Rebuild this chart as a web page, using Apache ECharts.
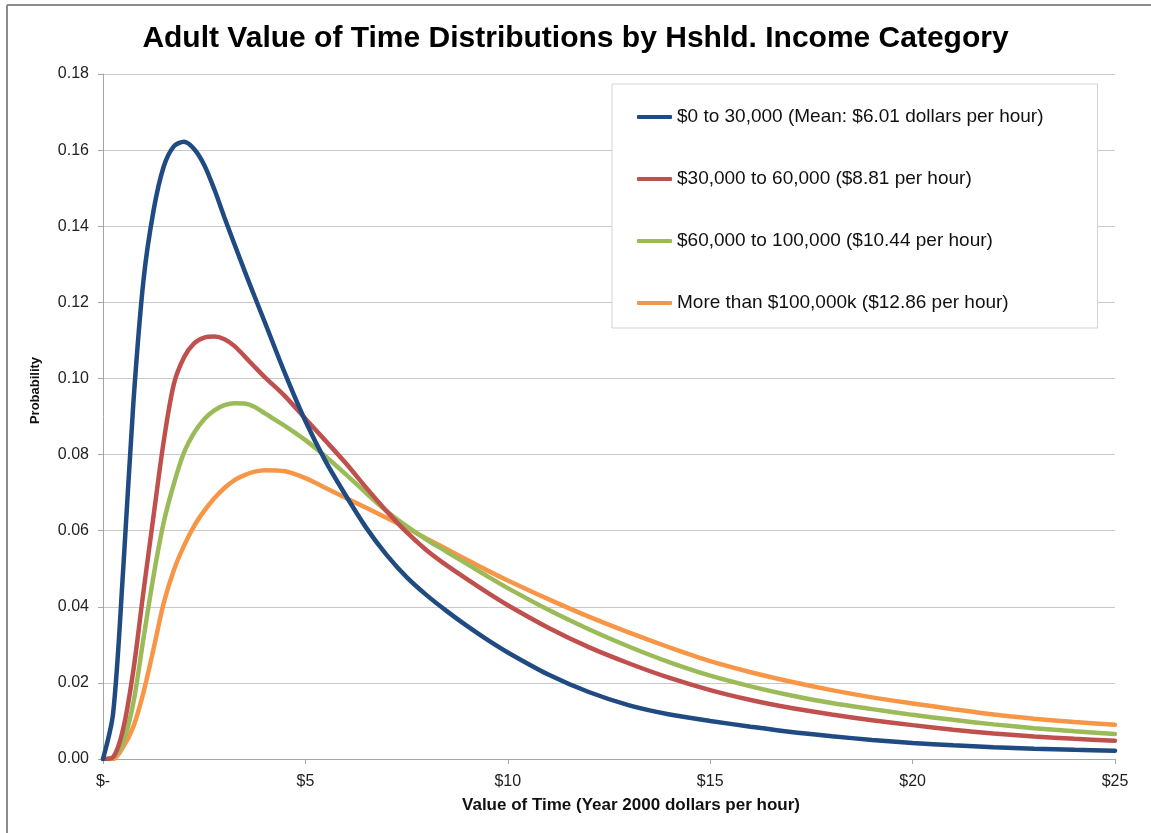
<!DOCTYPE html>
<html>
<head>
<meta charset="utf-8">
<script src="https://cdn.jsdelivr.net/npm/echarts@6/dist/echarts.min.js"></script>
<style>
  html, body { margin: 0; padding: 0; background: #fff; }
  #chart { width: 1151px; height: 833px; }
</style>
</head>
<body>
<div id="chart"></div>
<script>
// x positions (dollars per hour)
const xs = [0, 0.25, 0.5, 0.75, 1, 1.25, 1.5, 1.75, 2, 2.25, 2.5, 2.75, 3, 3.25, 3.5, 3.75, 4,
  4.5, 5, 5.5, 6, 6.5, 7, 7.5, 8, 8.5, 9, 9.5, 10,
  11, 12, 13, 14, 15, 16, 17, 18, 19, 20, 21, 22, 23, 24, 25]

const low = [0, 0.012, 0.05, 0.0935, 0.1258, 0.1442, 0.1557, 0.161, 0.1622, 0.1603, 0.1561, 0.1497, 0.1423, 0.1352, 0.1282, 0.1214, 0.1147,
  0.1012, 0.0888, 0.0782, 0.0692, 0.0608, 0.0537, 0.0478, 0.043, 0.0388, 0.0349, 0.0313, 0.028,
  0.0222, 0.0176, 0.0141, 0.0117, 0.01, 0.0085, 0.0071, 0.006, 0.005, 0.0042, 0.0036, 0.0031, 0.0027, 0.0024, 0.0022]

const midLow = [0, 0.0005, 0.008, 0.0233, 0.044, 0.064, 0.0835, 0.0985, 0.1055, 0.1092, 0.1107, 0.111, 0.1103, 0.1085, 0.1058, 0.103, 0.1003,
  0.0953, 0.0894, 0.0836, 0.0777, 0.0713, 0.0652, 0.0596, 0.0548, 0.0508, 0.0472, 0.0437, 0.0404,
  0.0345, 0.0294, 0.0251, 0.0213, 0.0181, 0.0155, 0.0134, 0.0117, 0.0102, 0.0089, 0.0077, 0.0067, 0.0059, 0.0053, 0.0048]

const midHigh = [0, 0.0005, 0.0045, 0.0148, 0.0317, 0.0482, 0.0622, 0.0723, 0.0805, 0.0857, 0.0893, 0.0916, 0.093, 0.0935, 0.0934, 0.0925, 0.0908,
  0.0875, 0.0838, 0.0795, 0.0748, 0.0699, 0.0652, 0.0612, 0.0576, 0.0544, 0.0512, 0.048, 0.0449,
  0.0392, 0.0341, 0.0295, 0.0254, 0.0219, 0.0191, 0.0167, 0.0147, 0.0131, 0.0116, 0.0103, 0.0091, 0.0081, 0.0073, 0.0066]

const high = [0, 0, 0.0032, 0.0085, 0.0175, 0.029, 0.041, 0.0496, 0.056, 0.0612, 0.0652, 0.0685, 0.0712, 0.0733, 0.0746, 0.0755, 0.0759,
  0.0756, 0.0738, 0.0712, 0.0686, 0.066, 0.0634, 0.0607, 0.0579, 0.0551, 0.0523, 0.0495, 0.0469,
  0.042, 0.0374, 0.0332, 0.0293, 0.0257, 0.0228, 0.0203, 0.0181, 0.0162, 0.0146, 0.0131, 0.0117, 0.0106, 0.0097, 0.009]

const names = [
  '$0 to 30,000 (Mean: $6.01 dollars per hour)',
  '$30,000 to 60,000 ($8.81 per hour)',
  '$60,000 to 100,000 ($10.44 per hour)',
  'More than $100,000k ($12.86 per hour)',
]
const colors = ['#1f4a82', '#c0504d', '#9bbb59', '#f79646']
const values = [low, midLow, midHigh, high]

const chart = echarts.init(document.getElementById('chart'))
const font = 'Liberation Sans, Arial, sans-serif'

chart.setOption({
  animation: false,
  textStyle: { fontFamily: font },
  title: {
    text: 'Adult Value of Time Distributions by Hshld. Income Category',
    left: 'center',
    top: 19,
    textStyle: { fontSize: 30, fontWeight: 'bold', color: '#000', fontFamily: font },
  },
  grid: { left: 103, right: 36, top: 74, bottom: 74 },
  legend: {
    orient: 'vertical',
    left: 612,
    top: 84,
    padding: [22, 54, 14, 25],
    itemGap: 40,
    itemWidth: 35,
    itemHeight: 4,
    icon: 'roundRect',
    backgroundColor: '#fff',
    borderColor: '#d4d4d4',
    borderWidth: 1,
    textStyle: { fontSize: 19, color: '#111', lineHeight: 22, fontFamily: font },
    data: names,
  },
  xAxis: {
    type: 'value',
    min: 0,
    max: 25,
    interval: 5,
    name: 'Value of Time (Year 2000 dollars per hour)',
    nameLocation: 'middle',
    nameGap: 38,
    nameTextStyle: { fontSize: 17, fontWeight: 'bold', color: '#111', padding: [0, 0, 0, 44] },
    axisLine: { lineStyle: { color: '#a6a6a6' } },
    axisTick: { show: true, length: 5, lineStyle: { color: '#a6a6a6' } },
    axisLabel: { fontSize: 16, color: '#222', margin: 15, formatter: (v) => v === 0 ? '$-' : '$' + v },
    splitLine: { show: false },
  },
  yAxis: {
    type: 'value',
    min: 0,
    max: 0.18,
    interval: 0.02,
    name: 'Probability',
    nameLocation: 'middle',
    nameGap: 61,
    nameRotate: 90,
    nameTextStyle: { fontSize: 13, fontWeight: 'bold', color: '#111', padding: [0, 0, 0, 52] },
    axisLine: { show: true, lineStyle: { color: '#a6a6a6' } },
    axisTick: { show: true, length: 5, lineStyle: { color: '#a6a6a6' } },
    axisLabel: { fontSize: 16, color: '#222', margin: 14, formatter: (v) => v.toFixed(2) },
    splitLine: { lineStyle: { color: '#c9c9c9', width: 1 } },
  },
  graphic: [
    { type: 'line', shape: { x1: 7, y1: 5, x2: 7, y2: 833 }, style: { stroke: '#8c8c8c', lineWidth: 2 } },
    { type: 'line', shape: { x1: 7, y1: 5, x2: 1151, y2: 5 }, style: { stroke: '#8c8c8c', lineWidth: 2 } },
  ],
  series: values.map((arr, i) => ({
    name: names[i],
    type: 'line',
    smooth: 0.3,
    showSymbol: false,
    data: xs.map((x, j) => [x, arr[j]]),
    lineStyle: { color: colors[i], width: 4.5, cap: 'round' },
    itemStyle: { color: colors[i] },
    z: 10 - i,
  })),
})
</script>
</body>
</html>
